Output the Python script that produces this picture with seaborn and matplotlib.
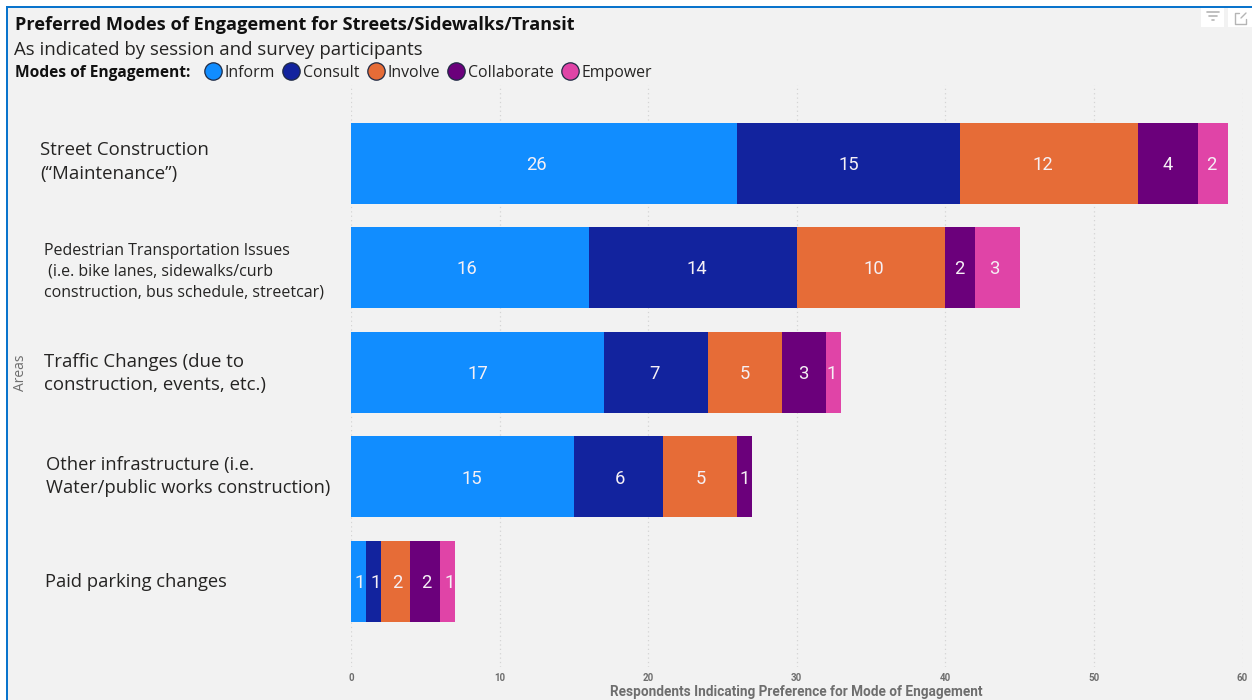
import matplotlib
matplotlib.use("Agg")
import matplotlib.pyplot as plt
from matplotlib.lines import Line2D
from matplotlib.patches import Rectangle
from matplotlib.transforms import ScaledTranslation
import pandas as pd
import seaborn as sns

TITLE = "Preferred Modes of Engagement for Streets/Sidewalks/Transit"
SUBTITLE = "As indicated by session and survey participants"
LEGEND_TITLE = "Modes of Engagement:"
X_LABEL = "Respondents Indicating Preference for Mode of Engagement"
Y_LABEL = "Areas"

areas = [
    "Street Construction\n(“Maintenance”)",
    "Pedestrian Transportation Issues\n (i.e. bike lanes, sidewalks/curb\nconstruction, bus schedule, streetcar)",
    "Traffic Changes (due to\nconstruction, events, etc.)",
    "Other infrastructure (i.e.\nWater/public works construction)",
    "Paid parking changes",
]
modes = ["Inform", "Consult", "Involve", "Collaborate", "Empower"]
inform = [26, 16, 17, 15, 1]
consult = [15, 14, 7, 6, 1]
involve = [12, 10, 5, 5, 2]
collaborate = [4, 2, 3, 1, 2]
empower = [2, 3, 1, 0, 1]
mode_colors = ["#118DFF", "#12239E", "#E66C37", "#6B007B", "#E044A7"]
x_ticks = [0, 10, 20, 30, 40, 50, 60]

# Per-row styling of the hand-placed category captions (points / pixels)
label_sizes = [13.4, 11.5, 13.4, 13.2, 13.2]
label_pads = [224, 220.8, 220.8, 219.3, 220.5]
label_shifts = [-6, 0, -3.5, -5, -1]

# Horizontal pixel nudges of the value labels, one list per mode
value_nudges = [
    [-8, -3, 1, 9, 1],
    [0, 4, -1, 1, 2],
    [-7, 3, 0, 1, 2],
    [-1, -1, -1, 0, 1],
    [-2, -3, -2, 0, 2],
]

W, H = 1252, 700
BG = "#F2F2F2"
BORDER = "#0A74CC"
TEXT = "#252423"
MUTED = "#6E6E6E"
PX = 0.72  # points per pixel at 100 dpi

sns.set_theme(style="white")
plt.rcParams["font.family"] = ["Open Sans", "DejaVu Sans"]

df = pd.DataFrame({
    "area": areas * len(modes),
    "mode": [m for m in modes for _ in areas],
    "count": inform + consult + involve + collaborate + empower,
})

fig = plt.figure(figsize=(W / 100, H / 100), dpi=100, facecolor="white")


def px_rect(x0, y0, x1, y1, color, zorder=0):
    """Filled rectangle given in pixels measured from the top-left corner."""
    fig.add_artist(Rectangle((x0 / W, 1 - y1 / H), (x1 - x0) / W, (y1 - y0) / H,
                             transform=fig.transFigure, facecolor=color,
                             edgecolor="none", zorder=zorder))


def px_line(xs, ys, color, lw=1.0):
    fig.add_artist(Line2D([x / W for x in xs], [1 - y / H for y in ys],
                          transform=fig.transFigure, color=color, lw=lw, zorder=3))


# Report-page panel and its blue edge
px_rect(6, 6, W, H, BG, 0)
px_rect(6, 6, W, 8, BORDER, 1)
px_rect(6, 6, 8, H, BORDER, 1)

ax = fig.add_axes([351 / W, 1 - 666.7 / H, (1242.5 - 351) / W, (666.7 - 84.7) / H])
ax.patch.set_alpha(0)
ax.set_axisbelow(True)

left = pd.Series([0] * len(areas), dtype=float)
for mode, color, nudges in zip(modes, mode_colors, value_nudges):
    values = df[df["mode"] == mode]
    sns.barplot(data=values, x="count", y="area", order=areas, orient="h",
                left=left.values, color=color, saturation=1, width=0.775,
                errorbar=None, linewidth=0, ax=ax)
    texts = ax.bar_label(ax.containers[-1], label_type="center", color="#F5F0F5",
                         fontsize=13.2, family="Roboto",
                         fmt=lambda v: f"{v:.0f}" if v else "")
    for text, nudge in zip(texts, nudges):
        text.xyann = (nudge * PX, -1.8 * PX)
    left += values["count"].values

ax.set_xlim(0, 60)
ax.set_ylim(4.818, -0.751)
ax.set_xticks(x_ticks)
ax.xaxis.grid(True, linestyle=(0, (1, 2.5)), color="#D4D4D4", linewidth=0.9)
ax.yaxis.grid(False)
sns.despine(ax=ax, left=True, bottom=True)

ax.tick_params(axis="x", length=0, pad=4.5, labelsize=7, labelcolor=MUTED)
for label in ax.get_xticklabels():
    label.set_family("Roboto")
    label.set_fontweight("bold")
ax.set_xlabel(X_LABEL, fontsize=9.8, color=MUTED, family="Roboto", labelpad=1.2,
              fontweight="bold")

ax.tick_params(axis="y", length=0)
for tick, size, pad, shift in zip(ax.yaxis.get_major_ticks(), label_sizes,
                                  label_pads, label_shifts):
    tick.set_pad(pad)
    tick.label1.set_ha("left")
    tick.label1.set_fontsize(size)
    tick.label1.set_color(TEXT)
    tick.label1.set_linespacing(1.38)
    tick.label1.set_transform(tick.label1.get_transform()
                              + ScaledTranslation(0, -shift * PX / 72, fig.dpi_scale_trans))
ax.set_ylabel("")

fig.text(20 / W, 1 - 373 / H, Y_LABEL, rotation=90, ha="center", va="center",
         fontsize=10, color=MUTED)

fig.text(15 / W, 1 - 25 / H, TITLE, fontsize=13.1, fontweight="bold",
         color="#111111", ha="left", va="center")
fig.text(14 / W, 1 - 50 / H, SUBTITLE, fontsize=13.4, color=TEXT,
         ha="left", va="center")
fig.text(15 / W, 1 - 73 / H, LEGEND_TITLE, fontsize=11.2, fontweight="bold",
         color="#111111", ha="left", va="center")

handles = [Line2D([], [], linestyle="none", marker="o", markersize=12.5,
                  markerfacecolor=c, markeredgecolor="#1F2A44", markeredgewidth=0.9)
           for c in mode_colors]
legend = fig.legend(handles, modes, loc="center left", ncol=5, frameon=False,
                    bbox_to_anchor=(205 / W, 1 - 73 / H), fontsize=11.4,
                    labelcolor=TEXT, handlelength=1.0, handletextpad=0.25,
                    columnspacing=0.52, borderpad=0, borderaxespad=0)

# Visual-header buttons in the top-right corner
px_rect(1201, 8, 1224, 27, "#FFFFFF", 2)
px_rect(1228, 8, W, 27, "#FFFFFF", 2)
px_line([1207, 1219], [12, 12], "#B5B5B5", 1.2)
px_line([1209, 1217], [16, 16], "#B5B5B5", 1.2)
px_line([1212, 1214], [20, 20], "#B5B5B5", 1.2)
px_line([1239, 1235, 1235, 1246, 1246], [13, 13, 24, 24, 19], "#B5B5B5", 1.0)
px_line([1241, 1246], [18, 13], "#B5B5B5", 1.0)

fig.savefig("out.png", dpi=100, facecolor=fig.get_facecolor())
